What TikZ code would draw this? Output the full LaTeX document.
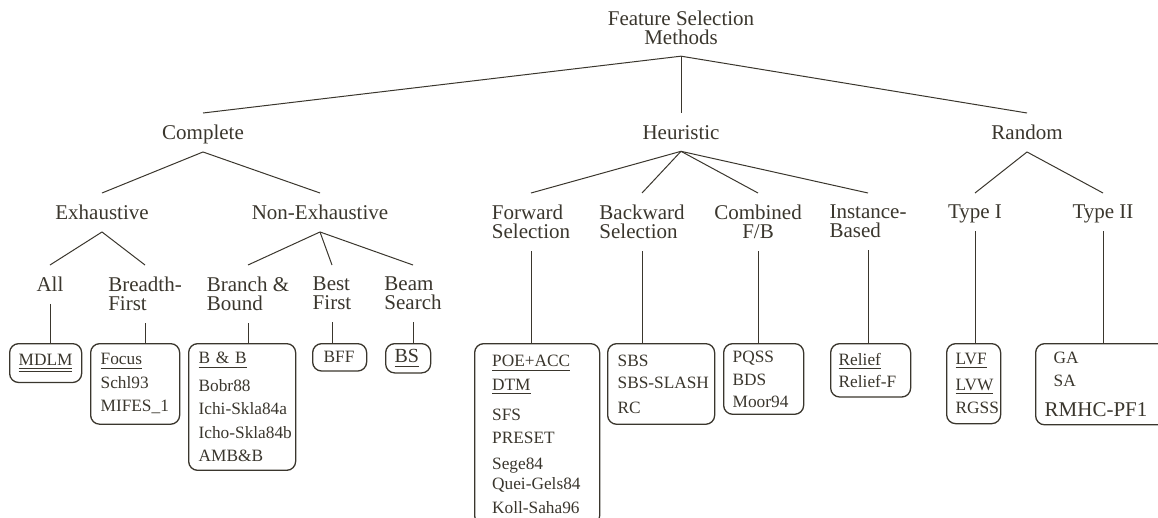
\documentclass[tikz,border=0pt]{standalone}
\usepackage{fontspec}
\setmainfont{Liberation Serif}

\definecolor{ink}{RGB}{58,54,45}
\newcommand{\treefont}{\fontsize{21}{19}\selectfont}
\newcommand{\boxfont}{\fontsize{17.3}{23.5}\selectfont\exhyphenpenalty=10000\hyphenpenalty=10000}
% underlined entries
\newcommand{\ulbox}[1]{\leavevmode\setbox0\hbox{#1}\rlap{\rule[-4pt]{\wd0}{1.1pt}}\box0}
\newcommand{\dulbox}[1]{\leavevmode\setbox0\hbox{#1}\rlap{\rule[-3pt]{\wd0}{0.8pt}}\rlap{\rule[-5.5pt]{\wd0}{0.8pt}}\box0}

\begin{document}
\begin{tikzpicture}[x=1pt, y=-1pt,
  lbl/.style={font=\treefont, align=center, inner xsep=2pt, inner ysep=12pt, anchor=north, text=ink},
  lbl1/.style={lbl, text depth=0pt},
  box/.style={draw=ink, line width=1.3pt, rounded corners=9pt, font=\boxfont, align=left, anchor=north west, text=ink},
  edge/.style={draw=ink, line width=1pt}]

\useasboundingbox (0,0) rectangle (1158,517);

% Koren a prvni uroven
\node[lbl, inner ysep=11pt] (fsm) at (681,0) {Feature Selection\\Methods};
\node[lbl1] (comp) at (203,113) {Complete};
\node[lbl1] (heu) at (681,113) {Heuristic};
\node[lbl1] (rand) at (1027,113) {Random};

% Druha uroven
\node[lbl1] (exh) at (102,193) {Exhaustive};
\node[lbl1] (nexh) at (320,193) {Non-Exhaustive};
\node[lbl, align=left] (fwd) at (531,193) {Forward\\Selection};
\node[lbl, align=left] (bwd) at (642,193) {Backward\\Selection};
\node[lbl] (comb) at (758,193) {Combined\\F/B};
\node[lbl, align=left] (inst) at (868,193) {Instance-\\Based};
\node[lbl1] (t1) at (975,193) {Type I};
\node[lbl1] (t2) at (1103,193) {Type II};

% Treti uroven
\node[lbl1] (all) at (50,265) {All};
\node[lbl, align=left] (bfs) at (145,265) {Breadth-\\First};
\node[lbl, align=left] (bnb) at (248,265) {Branch \&\\Bound};
\node[lbl, align=left] (best) at (332,265) {Best\\First};
\node[lbl, align=left] (beam) at (413,265) {Beam\\Search};

% Ramecky s algoritmy
\node[box, inner xsep=9pt, inner ysep=11pt, text width=54pt] (mdlm) at (9,343) {\dulbox{MDLM}};
\node[box, inner xsep=10pt, inner ysep=10pt, text width=69pt] (focus) at (90,343) {\ulbox{Focus}\\Schl93\\MIFES\_1};
\node[box, inner xsep=10pt, inner ysep=8.5pt, text width=87pt] (bb) at (188,343) {\ulbox{B \& B}\\[4pt]Bobr88\\Ichi-Skla84a\\Icho-Skla84b\\AMB\&B};
\node[box, inner xsep=11pt, inner ysep=8pt, text width=32pt] (bff) at (312,343) {BFF};
\node[box, inner xsep=9pt, inner ysep=6pt, text width=27pt] (bs) at (385,343) {\fontsize{20}{23.5}\selectfont\ulbox{BS}};
\node[box, inner xsep=17.5pt, inner ysep=11.5pt, text width=90pt] (fwdbox) at (474,343)
  {\ulbox{POE+ACC}\\\ulbox{DTM}\\[6.5pt]SFS\\PRESET\\[2.5pt]Sege84\\[-3.5pt]Quei-Gels84\\Koll-Saha96};
\node[box, inner xsep=10pt, inner ysep=11pt, text width=87pt] (bwdbox) at (607,343) {SBS\\[-1.5pt]SBS-SLASH\\[1.5pt]RC};
\node[box, inner xsep=9pt, inner ysep=7pt, text width=62pt] (combbox) at (723,343) {PQSS\\BDS\\[-2pt]Moor94};
\node[box, inner xsep=8pt, inner ysep=9.5pt, text width=64pt] (relbox) at (830,343) {\ulbox{Relief}\\[-1.5pt]Relief-F};
\node[box, inner xsep=9pt, inner ysep=9.5pt, text width=36pt] (t1box) at (946,343) {\ulbox{LVF}\\[2.5pt]\ulbox{LVW}\\RGSS};
\node[box, inner xsep=9pt, inner ysep=8pt, text width=150pt] (t2box) at (1035,343)
  {\hspace*{9pt}GA\\\hspace*{9pt}SA\\[6.5pt]{\fontsize{21}{23.5}\selectfont RMHC-PF1}};

% Hrany stromu
\foreach \a/\b in {fsm/comp, fsm/heu, fsm/rand, comp/exh, comp/nexh,
    exh/all, exh/bfs, nexh/bnb, nexh/best, nexh/beam,
    heu/fwd, heu/bwd, heu/comb, heu/inst, rand/t1, rand/t2}
  \draw[edge] (\a.south) -- (\b.north);

% Svisle cary k rameckum
\foreach \a/\b in {all/mdlm, bfs/focus, bnb/bb, best/bff, beam/bs,
    fwd/fwdbox, bwd/bwdbox, comb/combbox, inst/relbox, t1/t1box, t2/t2box}
  \draw[edge] (\a.south) -- (\a.south |- \b.north);

\end{tikzpicture}
\end{document}
